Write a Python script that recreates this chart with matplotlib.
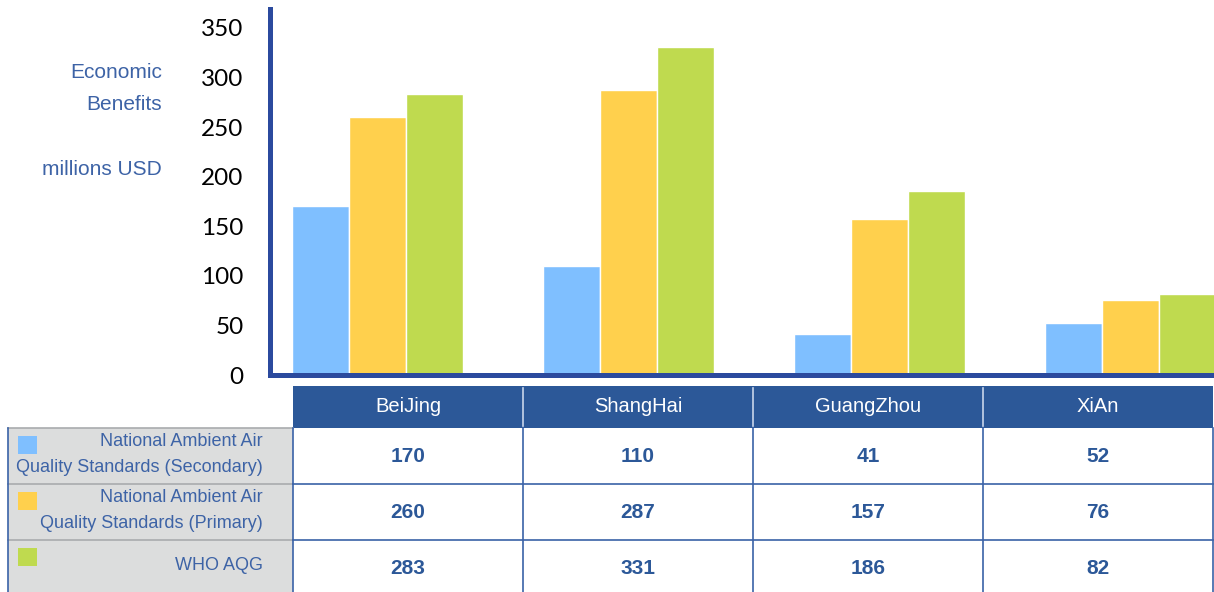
import matplotlib
matplotlib.use("Agg")
import matplotlib.pyplot as plt
from matplotlib.patches import Rectangle
import numpy as np

# ---- data -------------------------------------------------------------
cities = ["BeiJing", "ShangHai", "GuangZhou", "XiAn"]
series_names = [
    "National Ambient Air\nQuality Standards (Secondary)",
    "National Ambient Air\nQuality Standards (Primary)",
    "WHO AQG",
]
naaqs_secondary = [170, 110, 41, 52]
naaqs_primary = [260, 287, 157, 76]
who_aqg = [283, 331, 186, 82]
y_ticks = [0, 50, 100, 150, 200, 250, 300, 350]

series_values = [naaqs_secondary, naaqs_primary, who_aqg]
series_colors = ["#7FBFFF", "#FFD04D", "#BFDA4F"]

W, H = 1214, 592
fig = plt.figure(figsize=(W / 100, H / 100), dpi=100)

AXIS_BLUE = "#2B4A9E"
TEXT_BLUE = "#3D63A6"
HEAD_BLUE = "#2C5898"

# ---- bar chart --------------------------------------------------------
ax = fig.add_axes([270 / W, 1 - 375 / H, (W - 270) / W, (375 - 9) / H])
x = np.arange(len(cities))
bw = 0.227
for i, (vals, col) in enumerate(zip(series_values, series_colors)):
    ax.bar(x + (i - 1) * bw + 0.008, vals, width=bw, color=col,
           edgecolor="white", linewidth=1.0, zorder=2)

ax.set_xlim(-0.42, 3.34)
ax.set_ylim(0, 369)
ax.set_yticks(y_ticks)
ax.set_yticklabels([str(t) for t in y_ticks], family="Lato", fontsize=17.5,
                   color="black")
ax.tick_params(axis="y", length=0, pad=19)
ax.set_xticks([])
for s in ["top", "right"]:
    ax.spines[s].set_visible(False)
for s in ["left", "bottom"]:
    ax.spines[s].set_color(AXIS_BLUE)
    ax.spines[s].set_linewidth(3.6)
    ax.spines[s].set_capstyle("projecting")

# y-axis caption
cap_font = dict(ha="right", va="center", color=TEXT_BLUE, fontsize=15,
                family="Liberation Sans")
fig.text(162 / W, 1 - 73 / H, "Economic", **cap_font)
fig.text(162 / W, 1 - 105 / H, "Benefits", **cap_font)
fig.text(162 / W, 1 - 169 / H, "millions USD", **cap_font)

# ---- data table drawn in pixel space -----------------------------------
tb = fig.add_axes([0, 0, 1, 1], zorder=5)
tb.set_xlim(0, W)
tb.set_ylim(H, 0)
tb.axis("off")

col_left = 293
col_w = 230
head_top, head_bot = 386, 428
row_edges = [428, 484, 540, 596]
label_left = 8

# header row
tb.add_patch(Rectangle((col_left, head_top), col_w * 4, head_bot - head_top,
                       facecolor=HEAD_BLUE, edgecolor="none"))
for j, name in enumerate(cities):
    cx = col_left + col_w * (j + 0.5)
    tb.text(cx, (head_top + head_bot) / 2, name, ha="center", va="center",
            color="white", fontsize=14.5, family="Liberation Sans")
    if j > 0:
        tb.plot([col_left + col_w * j] * 2, [head_top + 2, head_bot - 2],
                color="#C9D6EA", lw=1.2)

# body rows
for r in range(3):
    top, bot = row_edges[r], row_edges[r + 1]
    tb.add_patch(Rectangle((label_left, top), col_left - label_left, bot - top,
                           facecolor="#DCDDDD", edgecolor="none"))
    tb.add_patch(Rectangle((col_left, top), col_w * 4, bot - top,
                           facecolor="white", edgecolor="none"))
    # colour key square
    tb.add_patch(Rectangle((18, top + 8), 19, 18,
                           facecolor=series_colors[r], edgecolor="none"))
    label = series_names[r]
    lab_font = dict(ha="right", va="center", color=TEXT_BLUE, fontsize=13,
                    family="Liberation Sans")
    if "\n" in label:
        l1, l2 = label.split("\n")
        tb.text(263, top + 13, l1, **lab_font)
        tb.text(263, top + 40, l2, **lab_font)
    else:
        tb.text(263, top + 25, label, **lab_font)
    for j in range(len(cities)):
        cx = col_left + col_w * (j + 0.5)
        tb.text(cx, (top + bot) / 2 + 1, str(series_values[r][j]),
                ha="center", va="center", color=HEAD_BLUE, fontsize=15,
                fontweight="bold", family="Liberation Sans")
    # horizontal separators
    if r > 0:
        tb.plot([label_left, col_left], [top, top], color="#A9ABAE", lw=1.2)
        tb.plot([col_left, col_left + col_w * 4], [top, top],
                color="#3A62A7", lw=1.2)

# grid lines for the body
tb.plot([label_left, col_left], [head_bot, head_bot], color="#A9ABAE", lw=1.2)
tb.plot([label_left, label_left], [head_bot, H], color="#3A62A7", lw=1.2)
for j in range(5):
    xx = col_left + col_w * j
    tb.plot([xx, xx], [head_bot, H], color="#3A62A7", lw=1.2)

fig.savefig("out.png", dpi=100)
